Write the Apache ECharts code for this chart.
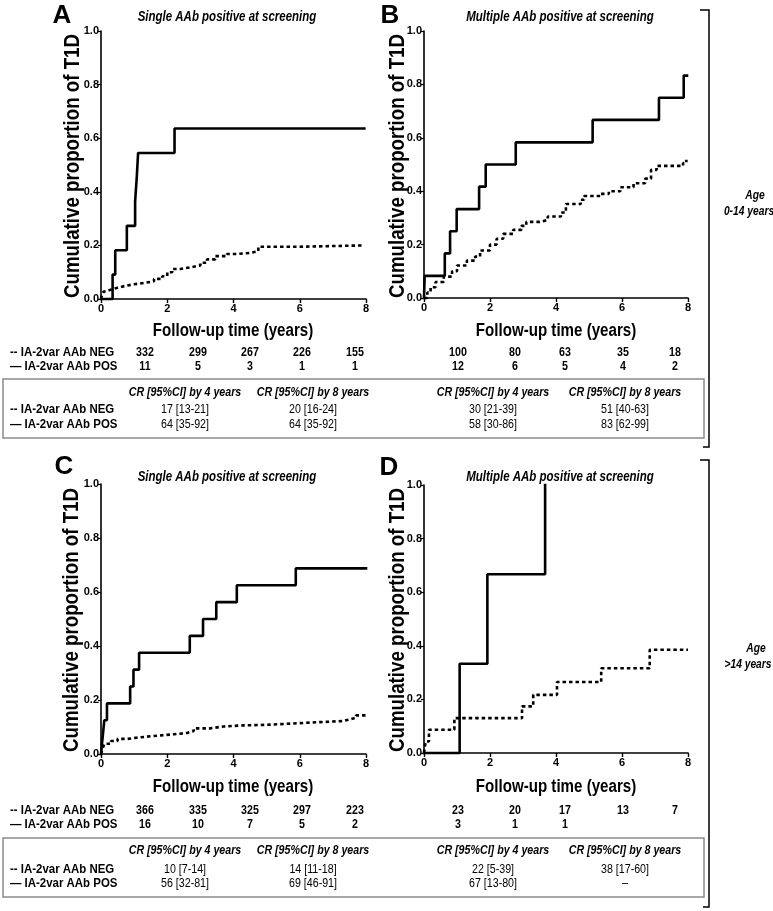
<!DOCTYPE html>
<html><head><meta charset="utf-8">
<script src="https://cdn.jsdelivr.net/npm/echarts@6/dist/echarts.min.js"></script>
<style>html,body{margin:0;padding:0;background:#fff}#c{width:773px;height:911px}</style>
</head><body><div id="c"></div>
<script>
// ---------- DATA ----------
const xTickValues = [0, 2, 4, 6, 8];
const yTickValues = [0, 0.2, 0.4, 0.6, 0.8, 1.0];
const panelLetters = ['A', 'B', 'C', 'D'];
const panelTitles = ['Single AAb positive at screening', 'Multiple AAb positive at screening',
                     'Single AAb positive at screening', 'Multiple AAb positive at screening'];
const yAxisTitle = 'Cumulative proportion of T1D';
const xAxisTitle = 'Follow-up time (years)';
const rowLabels = ['-- IA-2var AAb NEG', '— IA-2var AAb POS'];
const crHeaders = ['CR [95%CI] by 4 years', 'CR [95%CI] by 8 years'];
const ageLabels = [['Age', '0-14 years'], ['Age', '>14 years']];

// Kaplan-Meier cumulative incidence (time in years, proportion)
const posA = [[0,0],[0.35,0.091],[0.43,0.182],[0.78,0.273],[1.03,0.364],[1.08,0.455],[1.12,0.545],[2.22,0.636],[7.95,0.636]];
const negA = [[0,0],[0.03,0.015],[0.08,0.028],[0.15,0.035],[0.3,0.042],[0.5,0.048],[0.7,0.055],[1.0,0.06],[1.3,0.066],[1.6,0.075],[1.85,0.085],[2.0,0.1],[2.15,0.112],[2.4,0.118],[2.7,0.125],[3.0,0.135],[3.2,0.148],[3.45,0.16],[3.8,0.168],[4.1,0.172],[4.5,0.178],[4.75,0.195],[6.0,0.2],[7.95,0.2]];
const posB = [[0,0],[0.02,0.083],[0.63,0.167],[0.79,0.25],[0.99,0.333],[1.67,0.417],[1.87,0.5],[2.78,0.583],[5.11,0.667],[7.12,0.75],[7.87,0.833],[7.97,0.833]];
const negB = [[0,0],[0.1,0.02],[0.2,0.04],[0.35,0.06],[0.6,0.08],[0.85,0.1],[1.0,0.122],[1.3,0.14],[1.55,0.155],[1.7,0.178],[2.0,0.2],[2.2,0.222],[2.4,0.24],[2.7,0.255],[2.95,0.27],[3.1,0.285],[3.5,0.292],[3.75,0.305],[4.15,0.32],[4.3,0.352],[4.75,0.368],[4.85,0.382],[5.35,0.39],[5.6,0.4],[5.95,0.415],[6.35,0.43],[6.7,0.447],[6.88,0.48],[7.05,0.495],[7.85,0.505],[7.95,0.518]];
const posC = [[0,0],[0.05,0.0625],[0.1,0.125],[0.18,0.1875],[0.88,0.25],[0.98,0.3125],[1.15,0.375],[2.68,0.4375],[3.08,0.5],[3.48,0.5625],[4.1,0.625],[5.88,0.6875],[8,0.6875]];
const negC = [[0,0],[0.05,0.02],[0.1,0.038],[0.3,0.048],[0.5,0.056],[0.8,0.062],[1.2,0.068],[1.7,0.073],[2.2,0.078],[2.6,0.085],[2.8,0.095],[3.3,0.102],[3.7,0.106],[4.3,0.108],[5.0,0.113],[5.8,0.118],[6.6,0.122],[7.3,0.128],[7.5,0.135],[7.7,0.143],[8,0.146]];
const posD = [[0,0],[1.08,0.333],[1.92,0.667],[3.67,1.0]];
const negD = [[0,0],[0.05,0.043],[0.15,0.087],[0.92,0.13],[2.97,0.174],[3.31,0.217],[4.03,0.265],[5.37,0.316],[6.84,0.385],[8,0.385]];

// Numbers at risk (at 0,2,4,6,8 years)
const riskNegA = [332, 299, 267, 226, 155];
const riskPosA = [11, 5, 3, 1, 1];
const riskNegB = [100, 80, 63, 35, 18];
const riskPosB = [12, 6, 5, 4, 2];
const riskNegC = [366, 335, 325, 297, 223];
const riskPosC = [16, 10, 7, 5, 2];
const riskNegD = [23, 20, 17, 13, 7];
const riskPosD = [3, 1, 1, '', ''];

// Cumulative risk [95% CI] by 4 and 8 years
const crNegA = ['17 [13-21]', '20 [16-24]'];
const crPosA = ['64 [35-92]', '64 [35-92]'];
const crNegB = ['30 [21-39]', '51 [40-63]'];
const crPosB = ['58 [30-86]', '83 [62-99]'];
const crNegC = ['10 [7-14]', '14 [11-18]'];
const crPosC = ['56 [32-81]', '69 [46-91]'];
const crNegD = ['22 [5-39]', '38 [17-60]'];
const crPosD = ['67 [13-80]', '–'];

// ---------- LAYOUT ----------
const FF = '"Liberation Sans", Arial, Helvetica, sans-serif';
const grids = [
  {left:101, top:31, width:265, height:268},
  {left:424, top:31, width:264, height:267},
  {left:101, top:484, width:265, height:270},
  {left:424, top:485, width:264, height:268}
];
const posSeries = [posA, posB, posC, posD];
const negSeries = [negA, negB, negC, negD];

function txt(x, y, text, size, o) {
  o = o || {};
  const align = o.align || 'center';
  return {
    type:'text', x:x, y:y, scaleX:(o.sx===undefined?0.82:o.sx), rotation:o.rot||0, silent:true,
    style:{
      text:String(text), fill:o.color||'#000',
      font:(o.it?'italic ':'') + (o.w||'bold') + ' ' + size + 'px ' + FF,
      textAlign:align, align:align, textVerticalAlign:'middle', verticalAlign:'middle'
    }
  };
}

const xAxes = [], yAxes = [], series = [], graphics = [];
grids.forEach(function(g, i) {
  g.outerBoundsMode = 'none';
  xAxes.push({
    type:'value', gridIndex:i, min:0, max:8, interval:2,
    axisLine:{onZero:false, lineStyle:{color:'#000', width:1.6}},
    axisTick:{show:true, length:4, lineStyle:{color:'#000', width:1.4}},
    axisLabel:{color:'#000', fontWeight:'bold', fontSize:11, fontFamily:FF, margin:4},
    splitLine:{show:false}
  });
  yAxes.push({
    type:'value', gridIndex:i, min:0, max:1, interval:0.2,
    axisLine:{show:true, onZero:false, lineStyle:{color:'#000', width:1.6}},
    axisTick:{show:true, length:3, lineStyle:{color:'#000', width:1.2}},
    axisLabel:{color:'#000', fontWeight:'bold', fontSize:11, fontFamily:FF, margin:2,
               formatter:function(v){return v.toFixed(1);}},
    splitLine:{show:false}
  });
  series.push({
    type:'line', xAxisIndex:i, yAxisIndex:i, step:'end', data:negSeries[i], showSymbol:false,
    silent:true, animation:false, clip:false,
    lineStyle:{color:'#000', width:2.6, type:[3.5,3]}
  });
  series.push({
    type:'line', xAxisIndex:i, yAxisIndex:i, step:'end', data:posSeries[i], showSymbol:false,
    silent:true, animation:false, clip:false,
    lineStyle:{color:'#000', width:2.6, cap:'square'}
  });
});

// panel letters & titles
const letterPos = [[62,16],[390,16],[64,467],[389,468]];
const titlePos = [[227,17],[560,17],[227,477],[560,477]];
const yTitlePos = [[73,166],[398,166],[72,620],[398,620]];
const xTitlePos = [[233,331],[556,331],[233,787],[556,787]];
for (let i = 0; i < 4; i++) {
  graphics.push(txt(letterPos[i][0], letterPos[i][1], panelLetters[i], 26, {sx:1}));
  graphics.push(txt(titlePos[i][0], titlePos[i][1], panelTitles[i], 14, {it:true}));
  graphics.push(txt(yTitlePos[i][0], yTitlePos[i][1], yAxisTitle, 21.5, {rot:Math.PI/2, sx:0.87}));
  graphics.push(txt(xTitlePos[i][0], xTitlePos[i][1], xAxisTitle, 18, {sx:0.84}));
}

// numbers at risk tables
const riskColsL = [145, 198, 250, 302, 355];
const riskColsR = [458, 515, 565, 623, 675];
const blocks = [
  {rowY:[352,366], box:[379,59], head:392, crY:[409,424], negL:riskNegA, posL:riskPosA, negR:riskNegB, posR:riskPosB,
   crL:[crNegA,crPosA], crR:[crNegB,crPosB]},
  {rowY:[810,824], box:[838,59], head:850, crY:[869,883], negL:riskNegC, posL:riskPosC, negR:riskNegD, posR:riskPosD,
   crL:[crNegC,crPosC], crR:[crNegD,crPosD]}
];
const crColsL = [185, 313], crColsR = [493, 625];
blocks.forEach(function(b) {
  graphics.push(txt(10, b.rowY[0], rowLabels[0], 13, {align:'left', sx:0.88}));
  graphics.push(txt(10, b.rowY[1], rowLabels[1], 13, {align:'left', sx:0.88}));
  for (let k = 0; k < 5; k++) {
    graphics.push(txt(riskColsL[k], b.rowY[0], b.negL[k], 13));
    graphics.push(txt(riskColsL[k], b.rowY[1], b.posL[k], 13));
    if (b.negR[k] !== '') graphics.push(txt(riskColsR[k], b.rowY[0], b.negR[k], 13));
    if (b.posR[k] !== '') graphics.push(txt(riskColsR[k], b.rowY[1], b.posR[k], 13));
  }
  graphics.push({type:'rect', silent:true, shape:{x:3, y:b.box[0], width:701, height:b.box[1]},
                 style:{fill:'none', stroke:'#8a8a8a', lineWidth:1.5}});
  for (let c = 0; c < 2; c++) {
    graphics.push(txt(crColsL[c], b.head, crHeaders[c], 13, {it:true}));
    graphics.push(txt(crColsR[c], b.head, crHeaders[c], 13, {it:true}));
  }
  graphics.push(txt(10, b.crY[0], rowLabels[0], 13, {align:'left', sx:0.88}));
  graphics.push(txt(10, b.crY[1], rowLabels[1], 13, {align:'left', sx:0.88}));
  for (let r = 0; r < 2; r++) {
    for (let c = 0; c < 2; c++) {
      graphics.push(txt(crColsL[c], b.crY[r], b.crL[r][c], 13, {w:'normal'}));
      graphics.push(txt(crColsR[c], b.crY[r], b.crR[r][c], 13, {w:'normal'}));
    }
  }
});

// brackets & age labels
graphics.push({type:'polyline', silent:true, shape:{points:[[700,10],[709,10],[709,447],[703,447]]},
               style:{fill:'none', stroke:'#000', lineWidth:1.5}});
graphics.push({type:'polyline', silent:true, shape:{points:[[700,460],[709,460],[709,907],[703,907]]},
               style:{fill:'none', stroke:'#000', lineWidth:1.5}});
graphics.push(txt(755, 196, ageLabels[0][0], 12.5, {it:true}));
graphics.push(txt(749, 212, ageLabels[0][1], 12.5, {it:true}));
graphics.push(txt(756, 649, ageLabels[1][0], 12.5, {it:true}));
graphics.push(txt(748, 665, ageLabels[1][1], 12.5, {it:true}));

const chart = echarts.init(document.getElementById('c'), null, {renderer:'canvas'});
chart.setOption({
  backgroundColor:'#fff', animation:false,
  grid:grids, xAxis:xAxes, yAxis:yAxes, series:series, graphic:{elements:graphics}
});
</script></body></html>
